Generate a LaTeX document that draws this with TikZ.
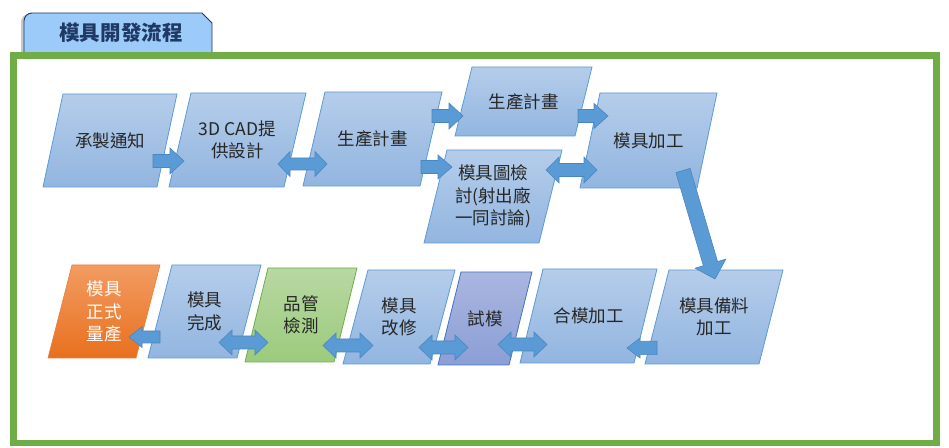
\documentclass[tikz,border=0pt]{standalone}
\usepackage{fontspec}
\setmainfont{Noto Sans CJK TC}
\usetikzlibrary{calc}
\definecolor{boxtop}{HTML}{B5CDEA}
\definecolor{boxbot}{HTML}{92B5E0}
\definecolor{boxline}{HTML}{5B9BD5}
\definecolor{arrowfill}{HTML}{5B9BD5}
\definecolor{arrowline}{HTML}{4A86C0}
\definecolor{orgtop}{HTML}{F29C62}
\definecolor{orgbot}{HTML}{E8701E}
\definecolor{grntop}{HTML}{B8D8A2}
\definecolor{grnbot}{HTML}{9BCB7C}
\definecolor{grnline}{HTML}{70AD47}
\definecolor{purtop}{HTML}{AAB6DF}
\definecolor{purbot}{HTML}{8B9ED6}
\definecolor{purline}{HTML}{4472C4}
\definecolor{tabfill}{HTML}{9CCBFA}
\definecolor{tabline}{HTML}{1F3864}
\definecolor{frame}{HTML}{70AD47}
\definecolor{txtcol}{HTML}{262626}
\tikzset{
  bluebox/.style={top color=boxtop, bottom color=boxbot, draw=boxline, line width=0.8bp},
  orangebox/.style={top color=orgtop, bottom color=orgbot, draw=orgbot!90!white, line width=0.6bp},
  greenbox/.style={top color=grntop, bottom color=grnbot, draw=grnline, line width=0.8bp},
  purplebox/.style={top color=purtop, bottom color=purbot, draw=purline, line width=0.8bp},
  txt/.style={align=center, text=txtcol, inner sep=0pt, font=\fontsize{17.5bp}{22.5bp}\selectfont},
  blockarrow/.style={fill=arrowfill, draw=arrowline, line width=0.6bp, line join=miter},
}
% #1 text options, #2 name, #3 style, #4 x, #5 y, #6 width, #7 height, #8 slant, #9 text
\newcommand\pbox[9][]{%
  \path[#3] (#4,#5) -- ++(#6,0) -- ++(-#8,#7) -- ++(-#6,0) -- cycle;
  \node[txt,#1] (#2) at ({#4+#6/2-#8/2},{#5+#7/2}) {#9};
}
% single block arrow: #1 start, #2 tip, #3 shaft half width, #4 head half width, #5 head length
\newcommand\sarrow[5]{%
  \coordinate (tmpB) at ($(#2)!#5!(#1)$);
  \path[blockarrow] ($(#1)!#3!90:(#2)$) -- ($(tmpB)!#3!90:(#2)$) -- ($(tmpB)!#4!90:(#2)$)
    -- (#2) -- ($(tmpB)!#4!-90:(#2)$) -- ($(tmpB)!#3!-90:(#2)$) -- ($(#1)!#3!-90:(#2)$) -- cycle;
}
% double block arrow
\newcommand\darrow[5]{%
  \coordinate (tmpA) at ($(#1)!#5!(#2)$);
  \coordinate (tmpB) at ($(#2)!#5!(#1)$);
  \path[blockarrow] (#1) -- ($(tmpA)!#4!90:(#2)$) -- ($(tmpA)!#3!90:(#2)$) -- ($(tmpB)!#3!90:(#2)$)
    -- ($(tmpB)!#4!90:(#2)$) -- (#2) -- ($(tmpB)!#4!-90:(#2)$) -- ($(tmpB)!#3!-90:(#2)$)
    -- ($(tmpA)!#3!-90:(#2)$) -- ($(tmpA)!#4!-90:(#2)$) -- cycle;
}
\begin{document}
\begin{tikzpicture}[x=1bp, y=-1bp]
\useasboundingbox (0,0) rectangle (949,448);
% title tab
\fill[black!22] (21,54) -- (21,22) arc[start angle=180, end angle=90, radius=8bp] -- (200,14) -- (209,24) -- (209,54) -- cycle;
\path[fill=tabfill, draw=tabline, line width=0.9bp] (24,54) -- (24,21) arc[start angle=180, end angle=90, radius=8bp] -- (202,13) -- (212,23) -- (212,54) -- cycle;
\node[text=tabline, font=\fontsize{20.5bp}{24bp}\selectfont\bfseries, inner sep=0pt] (title) at (121,33) {模具開發流程};
% frame
\draw[frame, line width=6.5bp] (13.5,55.5) rectangle (936.5,443);
% boxes
\pbox{n1}{bluebox}{63}{94}{114}{93}{20}{承製通知}
\pbox{n2}{bluebox}{191}{93}{115}{94}{22}{3D CAD提\\供設計}
\pbox{n3}{bluebox}{325}{92}{117}{94}{22}{生產計畫}
\pbox{n4}{bluebox}{472}{67}{120}{69}{17}{生產計畫}
\pbox{n5}{bluebox}{447}{150}{115}{93}{23}{模具圖檢\\討(射出廠\\一同討論)}
\pbox{n6}{bluebox}{600}{93}{117}{95}{20}{模具加工}
\pbox[text=white]{n7}{orangebox}{72}{265}{88}{93}{24}{模具\\正式\\量產}
\pbox{n8}{bluebox}{172}{265}{89}{93}{24}{模具\\完成}
\pbox{n9}{greenbox}{268}{268}{89}{94}{23}{品管\\檢測}
\pbox{n10}{bluebox}{368}{270}{87}{94}{25}{模具\\改修}
\pbox{n11}{purplebox}{461}{272}{71}{93}{23}{試模}
\pbox{n12}{bluebox}{543}{269}{114}{94}{23}{合模加工}
\pbox{n13}{bluebox}{669}{270}{114}{94}{24}{模具備料\\加工}
% connector end points
\coordinate (a1s) at (153,161);   \coordinate (a1e) at (184,161);
\coordinate (a2s) at (278,164);   \coordinate (a2e) at (327,164);
\coordinate (a3s) at (432,116);   \coordinate (a3e) at (463,116);
\coordinate (a4s) at (421,167);   \coordinate (a4e) at (452,167);
\coordinate (a5s) at (578,116);   \coordinate (a5e) at (608,116);
\coordinate (a6s) at (546,170);   \coordinate (a6e) at (597,170);
\coordinate (a7s) at (683,170.5); \coordinate (a7e) at (715,279);
\coordinate (a8s) at (657,348);   \coordinate (a8e) at (627,348);
\coordinate (a9s) at (498,344.5); \coordinate (a9e) at (547,344.5);
\coordinate (a10s) at (419,347.5); \coordinate (a10e) at (468,347.5);
\coordinate (a11s) at (323,345.5); \coordinate (a11e) at (373,345.5);
\coordinate (a12s) at (219,342.5); \coordinate (a12e) at (268,342.5);
\coordinate (a13s) at (160,337);  \coordinate (a13e) at (129,337);
% arrows
\sarrow{a1s}{a1e}{6.5bp}{13bp}{14bp}
\darrow{a2s}{a2e}{6bp}{12.5bp}{12bp}
\sarrow{a3s}{a3e}{6.5bp}{13bp}{14bp}
\sarrow{a4s}{a4e}{6.5bp}{12bp}{14bp}
\sarrow{a5s}{a5e}{6.5bp}{12.5bp}{14bp}
\darrow{a6s}{a6e}{6.5bp}{13bp}{13bp}
\sarrow{a7s}{a7e}{7.4bp}{16bp}{16bp}
\sarrow{a8s}{a8e}{6.7bp}{10bp}{13bp}
\darrow{a9s}{a9e}{6.5bp}{12.5bp}{13bp}
\darrow{a10s}{a10e}{6.5bp}{12.5bp}{13bp}
\darrow{a11s}{a11e}{6.5bp}{12.5bp}{13bp}
\darrow{a12s}{a12e}{6.5bp}{12.5bp}{13bp}
\sarrow{a13s}{a13e}{6bp}{10.5bp}{13bp}
\end{tikzpicture}
\end{document}
